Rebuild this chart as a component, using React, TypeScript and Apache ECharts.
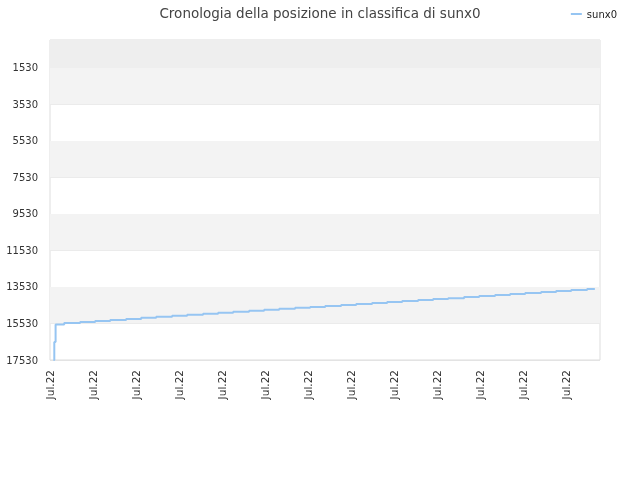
import React, { useEffect, useRef } from 'react';
import * as echarts from 'echarts';

// x is measured in label periods (one "Jul.22" label per unit)
const sampleDays = [
  0.08, 0.1, 0.13, 0.33, 0.7, 1.05, 1.4, 1.77, 2.12, 2.47, 2.84, 3.19, 3.56, 3.91,
  4.26, 4.63, 4.98, 5.33, 5.7, 6.05, 6.4, 6.77, 7.12, 7.49, 7.84, 8.19, 8.56, 8.91,
  9.26, 9.63, 9.98, 10.35, 10.7, 11.05, 11.42, 11.77, 12.12, 12.49, 12.67
];
const rankValues = [
  17530, 16550, 15580, 15509, 15454, 15399, 15344, 15289, 15213, 15158, 15110, 15048,
  14993, 14938, 14883, 14828, 14773, 14719, 14664, 14620, 14575, 14520, 14465, 14410,
  14355, 14301, 14246, 14191, 14150, 14081, 14026, 13971, 13916, 13861, 13806, 13752,
  13697, 13642, 13642
];
const yTicks = [1530, 3530, 5530, 7530, 9530, 11530, 13530, 15530, 17530];
const xLabel = 'Jul.22';
const seriesName = 'sunx0';
const titleText = 'Cronologia della posizione in classifica di sunx0';

const App: React.FC = () => {
  const chartRef = useRef<HTMLDivElement>(null);

  useEffect(() => {
    const chart = echarts.init(chartRef.current!, null, { renderer: 'svg' });

    const bands: any[] = [[{ yAxis: 0, itemStyle: { color: '#eeeeee' } }, { yAxis: yTicks[0] }]];
    for (let i = 1; i < yTicks.length; i += 2) {
      bands.push([{ yAxis: yTicks[i - 1], itemStyle: { color: '#f3f3f3' } }, { yAxis: yTicks[i] }]);
    }

    const option = {
      animation: false,
      textStyle: { fontFamily: 'DejaVu Sans' },
      title: {
        text: titleText,
        left: 'center',
        top: 1,
        textStyle: { fontSize: 13.5, fontWeight: 'normal', color: '#444', fontFamily: 'DejaVu Sans' }
      },
      legend: {
        right: 18,
        top: 4,
        itemWidth: 11,
        itemHeight: 2,
        itemGap: 6,
        textStyle: { fontSize: 10, color: '#222' },
        data: [{ name: seriesName, icon: 'rect' }]
      },
      grid: {
        left: 50,
        right: 40,
        top: 40,
        bottom: 120,
        outerBoundsMode: 'none',
        show: true,
        borderColor: '#dddddd',
        borderWidth: 1
      },
      xAxis: {
        type: 'value',
        min: 0,
        max: 12.79,
        interval: 1,
        axisLine: { show: false },
        axisTick: { show: false },
        splitLine: { show: false },
        axisLabel: {
          rotate: 90,
          fontSize: 10.5,
          color: '#333',
          margin: 10,
          showMaxLabel: false,
          formatter: () => xLabel
        }
      },
      yAxis: {
        type: 'value',
        inverse: true,
        min: 0,
        max: 17530,
        axisLine: { show: false },
        axisTick: { show: false, customValues: yTicks },
        axisLabel: {
          fontSize: 10,
          color: '#333',
          margin: 12,
          customValues: yTicks,
          formatter: (v: number) => String(v)
        },
        splitLine: { show: true, lineStyle: { color: '#e3e3e3', width: 1 } }
      },
      series: [
        {
          name: seriesName,
          type: 'line',
          step: 'end',
          showSymbol: false,
          data: sampleDays.map((d, i) => [d, rankValues[i]]),
          lineStyle: { color: '#96c5f2', width: 2 },
          itemStyle: { color: '#96c5f2' },
          markArea: { silent: true, data: bands }
        }
      ]
    };

    chart.setOption(option);
    return () => chart.dispose();
  }, []);

  return (
    <div
      ref={chartRef}
      style={{ position: 'fixed', left: 0, top: 0, width: '640px', height: '480px' }}
    />
  );
};

export default App;
